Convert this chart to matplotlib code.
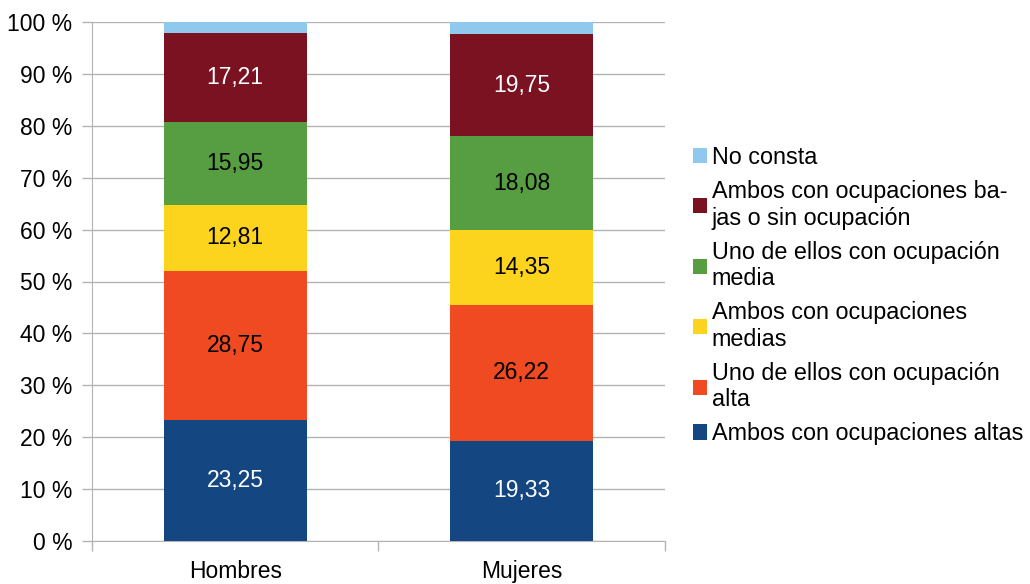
import matplotlib.pyplot as plt
import numpy as np

plt.rcParams['font.family'] = ['Liberation Sans', 'DejaVu Sans']

# data
groups = ['Hombres', 'Mujeres']
series = ['Ambos con ocupaciones altas', 'Uno de ellos con ocupación\nalta',
          'Ambos con ocupaciones\nmedias', 'Uno de ellos con ocupación\nmedia',
          'Ambos con ocupaciones ba-\njas o sin ocupación', 'No consta']
altas = [23.25, 19.33]
una_alta = [28.75, 26.22]
medias = [12.81, 14.35]
una_media = [15.95, 18.08]
bajas = [17.21, 19.75]
no_consta = [2.03, 2.27]

values = [altas, una_alta, medias, una_media, bajas, no_consta]
colors = ['#144681', '#ef4a22', '#fdd41d', '#579e42', '#7b1222', '#8fc9ed']
label_colors = ['white', 'black', 'black', 'black', 'white', None]

fig = plt.figure(figsize=(10.3, 5.84), dpi=100)
ax = fig.add_axes([92 / 1030, 43 / 584, 573 / 1030, 519 / 584])

x = np.arange(len(groups))
bottom = np.zeros(len(groups))
handles = []
for vals, col, name, lc in zip(values, colors, series, label_colors):
    b = ax.bar(x, vals, width=0.5, bottom=bottom, color=col, label=name, zorder=3)
    handles.append(b)
    if lc is not None:
        for xi, v, bt in zip(x, vals, bottom):
            ax.text(xi, bt + v / 2, f'{v:.2f}'.replace('.', ','), ha='center', va='center',
                    color=lc, fontsize=16.5, zorder=4)
    bottom += np.array(vals)

ax.set_xlim(-0.5, 1.5)
ax.set_ylim(0, 100)
ax.set_yticks(np.arange(0, 101, 10))
ax.set_yticklabels([f'{v} %' for v in range(0, 101, 10)], fontsize=16.5)
ax.set_xticks(x)
ax.set_xticklabels(groups, fontsize=16.5)
ax.set_xticks([-0.5, 0.5, 1.5], minor=True)
ax.tick_params(axis='x', which='major', length=0, pad=14)
ax.tick_params(axis='x', which='minor', length=7, color='#b3b3b3', width=1)
ax.tick_params(axis='y', length=7, color='#b3b3b3', width=1, pad=7)
ax.grid(axis='y', color='#b3b3b3', linewidth=1, zorder=0)
for s in ['top', 'right']:
    ax.spines[s].set_visible(False)
for s in ['left', 'bottom']:
    ax.spines[s].set_color('#b3b3b3')

leg = fig.legend(handles[::-1], series[::-1], loc='upper left', bbox_to_anchor=(0.6635, 0.766),
                 frameon=False, fontsize=16.8, handlelength=0.62, handleheight=0.62,
                 handletextpad=0.2, labelspacing=0.47, borderaxespad=0)

fig.savefig('out.png', dpi=100)
